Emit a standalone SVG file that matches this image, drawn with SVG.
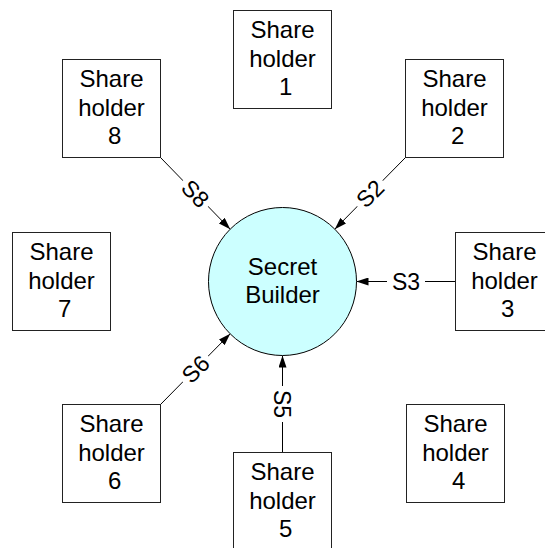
<svg xmlns="http://www.w3.org/2000/svg" width="545" height="548" viewBox="0 0 545 548">
  <defs>
    <marker id="arrow" markerUnits="userSpaceOnUse" markerWidth="12" markerHeight="8" refX="12" refY="4" orient="auto">
      <path d="M0,0 L12,4 L0,8 z" fill="#000"/>
    </marker>
  </defs>
  <style>
    .box { fill: #fff; stroke: #222; stroke-width: 1; }
    .hub { fill: #ccffff; stroke: #000; stroke-width: 1; }
    .txt { font-family: "Liberation Sans", Arial, sans-serif; font-size: 24px; fill: #000; text-anchor: middle; }
    .edge { stroke: #000; stroke-width: 1; fill: none; marker-end: url(#arrow); }
    .lbl { font-family: "Liberation Sans", Arial, sans-serif; font-size: 23px; fill: #000; text-anchor: middle; }
    .lblbg { fill: #fff; stroke: none; }
  </style>
  <rect width="545" height="548" fill="#fff"/>

  <!-- connectors: shareholders send their shares to the builder -->
  <g id="connectors">
    <line class="edge" x1="160.5" y1="157.5" x2="230.2" y2="229.2"/>
    <line class="edge" x1="405.5" y1="157.5" x2="334.8" y2="229.2"/>
    <line class="edge" x1="455.5" y1="281.5" x2="356.5" y2="281.5"/>
    <line class="edge" x1="282.5" y1="452.5" x2="282.5" y2="355.5"/>
    <line class="edge" x1="160.5" y1="404.5" x2="230.2" y2="333.8"/>
    <g transform="translate(195.5,193.5) rotate(45)">
      <rect class="lblbg" x="-18" y="-10" width="36" height="20"/>
      <text class="lbl" x="0" y="8.2">S8</text>
    </g>
    <g transform="translate(370,193.5) rotate(-45)">
      <rect class="lblbg" x="-18" y="-10" width="36" height="20"/>
      <text class="lbl" x="0" y="8.2">S2</text>
    </g>
    <g transform="translate(406,281.5)">
      <rect class="lblbg" x="-19" y="-10" width="38" height="20"/>
      <text class="lbl" x="0" y="8.2">S3</text>
    </g>
    <g transform="translate(282.5,404) rotate(90)">
      <rect class="lblbg" x="-18" y="-10" width="36" height="20"/>
      <text class="lbl" x="0" y="8.2">S5</text>
    </g>
    <g transform="translate(195.5,369) rotate(-45)">
      <rect class="lblbg" x="-18" y="-10" width="36" height="20"/>
      <text class="lbl" x="0" y="8.2">S6</text>
    </g>
  </g>

  <!-- central node -->
  <g id="secret-builder">
    <circle class="hub" cx="282.5" cy="281.5" r="74"/>
    <text class="txt" x="282.5" y="274.5">Secret</text>
    <text class="txt" x="282.5" y="302.5">Builder</text>
  </g>

  <!-- shareholder nodes -->
  <g id="shareholder-1">
    <rect class="box" x="233.5" y="10.5" width="98" height="98"/>
    <text class="txt" x="282.5" y="38.3">Share</text>
    <text class="txt" x="282.5" y="66.8">holder</text>
    <text class="txt" x="285.8" y="95.2">1</text>
  </g>
  <g id="shareholder-2">
    <rect class="box" x="405.5" y="59.5" width="98" height="98"/>
    <text class="txt" x="454.5" y="87.3">Share</text>
    <text class="txt" x="454.5" y="115.8">holder</text>
    <text class="txt" x="457.8" y="144.2">2</text>
  </g>
  <g id="shareholder-3">
    <rect class="box" x="455.5" y="232.5" width="98" height="98"/>
    <text class="txt" x="504.5" y="260.3">Share</text>
    <text class="txt" x="504.5" y="288.8">holder</text>
    <text class="txt" x="507.8" y="317.2">3</text>
  </g>
  <g id="shareholder-4">
    <rect class="box" x="406.5" y="404.5" width="98" height="98"/>
    <text class="txt" x="455.5" y="432.3">Share</text>
    <text class="txt" x="455.5" y="460.8">holder</text>
    <text class="txt" x="458.8" y="489.2">4</text>
  </g>
  <g id="shareholder-5">
    <rect class="box" x="233.5" y="452.5" width="98" height="98"/>
    <text class="txt" x="282.5" y="480.3">Share</text>
    <text class="txt" x="282.5" y="508.8">holder</text>
    <text class="txt" x="285.8" y="537.2">5</text>
  </g>
  <g id="shareholder-6">
    <rect class="box" x="62.5" y="404.5" width="98" height="98"/>
    <text class="txt" x="111.5" y="432.3">Share</text>
    <text class="txt" x="111.5" y="460.8">holder</text>
    <text class="txt" x="114.8" y="489.2">6</text>
  </g>
  <g id="shareholder-7">
    <rect class="box" x="12.5" y="232.5" width="98" height="98"/>
    <text class="txt" x="61.5" y="260.3">Share</text>
    <text class="txt" x="61.5" y="288.8">holder</text>
    <text class="txt" x="64.8" y="317.2">7</text>
  </g>
  <g id="shareholder-8">
    <rect class="box" x="62.5" y="59.5" width="98" height="98"/>
    <text class="txt" x="111.5" y="87.3">Share</text>
    <text class="txt" x="111.5" y="115.8">holder</text>
    <text class="txt" x="114.8" y="144.2">8</text>
  </g>
</svg>
